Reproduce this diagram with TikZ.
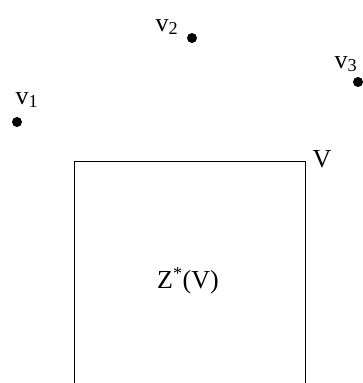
\documentclass[tikz,border=0pt]{standalone}
\usepackage{fontspec}
\setmainfont{Liberation Serif}
\begin{document}
\begin{tikzpicture}[x=1pt,y=-1pt,
  vdot/.style={circle,fill=black,inner sep=0pt,minimum size=10pt},
  lbl/.style={inner sep=0pt,font=\fontsize{26}{28}\selectfont},
  boxline/.style={line width=0.9pt}]
\useasboundingbox (0,0) rectangle (363,383);
\node[vdot] (d1) at (17,122) {};
\node[vdot] (d2) at (192,38) {};
\node[vdot] (d3) at (358,82) {};
\node[lbl] (l1) at (27,100) {v\textsubscript{1}};
\node[lbl] (l2) at (167,27) {v\textsubscript{2}};
\node[lbl] (l3) at (346,64) {v\textsubscript{3}};
\draw[boxline] (74,383) -- (74,161) -- (305,161) -- (305,383);
\node[lbl] (V) at (322,159) {V};
\node[lbl] (Z) at (188,281) {Z\textsuperscript{*}(V)};
\end{tikzpicture}
\end{document}
